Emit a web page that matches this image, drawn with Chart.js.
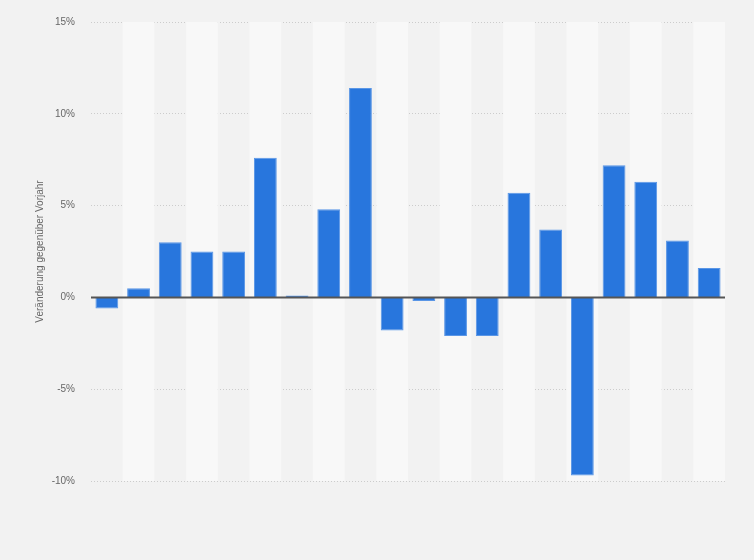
<!DOCTYPE html>
<html>
<head>
<meta charset="utf-8">
<script src="https://cdn.jsdelivr.net/npm/chart.js@4"></script>
<style>
  html, body { margin: 0; padding: 0; background: #f2f2f2; }
  #wrap { width: 754px; height: 560px; position: relative; }
</style>
</head>
<body>
<div id="wrap"><canvas id="c" width="754" height="560"></canvas></div>
<script>
const categories = ["1","2","3","4","5","6","7","8","9","10","11","12","13","14","15","16","17","18","19","20"];
const changeValues = [-0.6, 0.5, 3.0, 2.5, 2.5, 7.6, 0.1, 4.8, 11.4, -1.8, -0.2, -2.1, -2.1, 5.7, 3.7, -9.7, 7.2, 6.3, 3.1, 1.6];
const yTicks = [-10, -5, 0, 5, 10, 15];
const yTitle = "Veränderung gegenüber Vorjahr";

const bandsPlugin = {
  id: 'bands',
  beforeDatasetsDraw(chart) {
    const { ctx, chartArea, scales } = chart;
    const x = scales.x;
    ctx.save();
    ctx.fillStyle = '#f8f8f8';
    for (let i = 1; i < categories.length; i += 2) {
      const c = x.getPixelForValue(i);
      const half = (x.getPixelForValue(1) - x.getPixelForValue(0)) / 2;
      ctx.fillRect(c - half, chartArea.top, half * 2, chartArea.bottom - chartArea.top);
    }
    ctx.restore();
  },
  afterDatasetsDraw(chart) {
    const { ctx, chartArea, scales } = chart;
    const y0 = scales.y.getPixelForValue(0);
    ctx.save();
    ctx.strokeStyle = '#555555';
    ctx.lineWidth = 2;
    ctx.beginPath();
    ctx.moveTo(chartArea.left, y0);
    ctx.lineTo(chartArea.right, y0);
    ctx.stroke();
    ctx.restore();
  }
};

const bgPlugin = {
  id: 'bg',
  beforeDraw(chart) {
    const { ctx, width, height } = chart;
    ctx.save();
    ctx.fillStyle = '#f2f2f2';
    ctx.fillRect(0, 0, width, height);
    ctx.restore();
  }
};

new Chart(document.getElementById('c'), {
  type: 'bar',
  data: {
    labels: categories,
    datasets: [{
      data: changeValues,
      backgroundColor: '#2876dd',
      borderColor: '#5a96e6',
      borderWidth: 1,
      barPercentage: 0.72,
      categoryPercentage: 1.0
    }]
  },
  options: {
    responsive: false,
    animation: false,
    devicePixelRatio: 1,
    layout: { padding: { left: 30, right: 29, top: 21, bottom: 79 } },
    plugins: { legend: { display: false }, tooltip: { enabled: false } },
    scales: {
      x: {
        display: false,
        grid: { display: false }
      },
      y: {
        min: -10,
        max: 15,
        afterFit(scale) { scale.width = 61; },
        afterBuildTicks(scale) { scale.ticks = yTicks.map(v => ({ value: v })); },
        ticks: {
          padding: 16,
          color: '#666666',
          font: { family: 'Liberation Sans, Arial, sans-serif', size: 10 },
          callback: v => v + '%'
        },
        grid: {
          drawTicks: false,
          color: ctx => ctx.tick && ctx.tick.value === 0 ? 'rgba(0,0,0,0)' : '#cccccc',
          lineWidth: 1
        },
        border: { display: false, dash: [1, 2] },
        title: {
          display: true,
          text: yTitle,
          color: '#666666',
          font: { family: 'Liberation Sans, Arial, sans-serif', size: 10 },
          padding: { top: 4, bottom: 4 }
        }
      }
    }
  },
  plugins: [bgPlugin, bandsPlugin]
});
</script>
</body>
</html>
